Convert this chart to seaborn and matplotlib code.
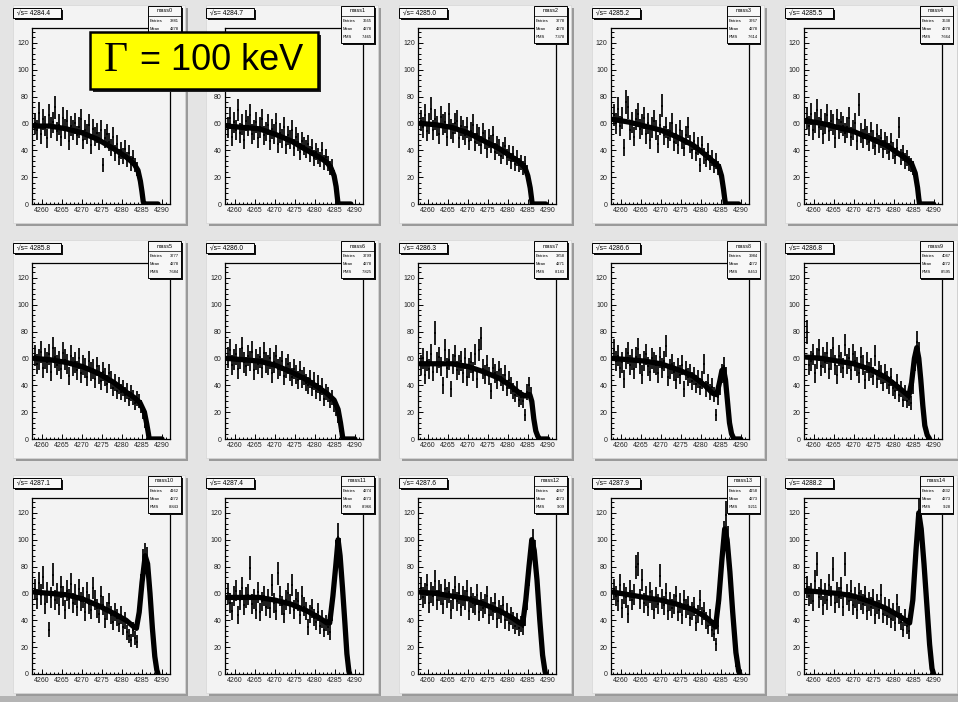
import numpy as np
import pandas as pd
import matplotlib
matplotlib.use("Agg")
import matplotlib.pyplot as plt
from matplotlib.patches import Rectangle
from matplotlib.ticker import MultipleLocator
import seaborn as sns

W, H = 958, 702

# ---- run metadata -------------------------------------------------------
energies = ["4284.4", "4284.7", "4285.0", "4285.2", "4285.5",
            "4285.8", "4286.0", "4286.3", "4286.6", "4286.8",
            "4287.1", "4287.4", "4287.6", "4287.9", "4288.2"]
hist_names = ["mass0", "mass1", "mass2", "mass3", "mass4",
              "mass5", "mass6", "mass7", "mass8", "mass9",
              "mass10", "mass11", "mass12", "mass13", "mass14"]
entries = [3881, 3665, 3778, 3767, 3638, 3777, 3799, 3858,
           3984, 4047, 4162, 4274, 4267, 4158, 4332]
means = [4278, 4278, 4278, 4278, 4278, 4278, 4278, 4271,
         4272, 4272, 4272, 4273, 4273, 4273, 4273]
rms = ["7.465", "7.465", "7.378", "7.614", "7.664", "7.684", "7.825", "8.183",
       "8.453", "8.595", "8.843", "8.966", "9.09", "9.211", "9.28"]
width_label = "= 100 keV"

# ---- histogram binning --------------------------------------------------
bin_lo = 4258.0
bin_width = 0.5

# ---- bin contents per scan point ---------------------------------------
counts_0 = [60, 55, 68, 52, 63, 58, 49, 66, 57, 61,
            72, 54, 59, 50, 64, 56, 62, 47, 58, 55,
            60, 51, 57, 63, 48, 55, 52, 59, 44, 56,
            50, 53, 47, 55, 29, 49, 52, 46, 42, 50,
            38, 45, 35, 40, 36, 41, 33, 38, 30, 34,
            29, 26, 20, 15, 5]
counts_1 = [57, 64, 50, 61, 55, 70, 53, 59, 48, 62,
            58, 66, 52, 55, 61, 49, 57, 63, 51, 54,
            59, 47, 56, 52, 60, 45, 53, 49, 57, 44,
            51, 48, 55, 42, 50, 46, 39, 47, 43, 41,
            45, 37, 42, 34, 39, 36, 33, 40, 31, 35,
            30, 27, 28, 21, 13, 3]
counts_2 = [62, 57, 66, 54, 60, 71, 55, 63, 58, 52,
            65, 59, 61, 50, 67, 56, 53, 60, 62, 49,
            58, 55, 51, 57, 47, 54, 59, 46, 52, 50,
            44, 53, 48, 41, 49, 45, 51, 39, 44, 42,
            36, 40, 43, 35, 38, 32, 37, 30, 34, 29,
            31, 27, 30, 24, 17, 9, 2]
counts_3 = [66, 60, 71, 58, 64, 42, 76, 72, 55, 61,
            50, 63, 67, 56, 59, 64, 52, 60, 48, 57,
            62, 55, 45, 59, 73, 51, 57, 49, 54, 60,
            46, 52, 44, 55, 48, 42, 51, 57, 45, 40,
            47, 38, 43, 29, 44, 36, 33, 39, 31, 34,
            28, 32, 27, 25, 19, 11, 2]
counts_4 = [64, 58, 67, 55, 61, 70, 57, 63, 52, 60,
            66, 54, 62, 59, 49, 63, 56, 61, 58, 53,
            57, 64, 50, 55, 60, 47, 74, 53, 49, 56,
            51, 46, 54, 48, 43, 52, 45, 49, 41, 47,
            44, 39, 46, 40, 36, 42, 57, 35, 38, 32,
            34, 30, 29, 27, 21, 13, 4]
counts_5 = [62, 56, 59, 65, 53, 60, 57, 63, 50, 68,
            61, 55, 58, 52, 64, 59, 56, 47, 62, 54,
            57, 51, 60, 49, 55, 53, 46, 58, 50, 52,
            45, 54, 48, 43, 50, 46, 41, 49, 44, 38,
            42, 36, 40, 35, 38, 33, 36, 30, 34, 31,
            27, 30, 28, 24, 19, 12, 5, 1]
counts_6 = [61, 66, 55, 59, 63, 52, 60, 68, 57, 54,
            62, 58, 65, 51, 59, 56, 61, 53, 64, 57,
            55, 60, 49, 57, 62, 52, 54, 58, 47, 53,
            56, 50, 46, 52, 48, 44, 51, 45, 47, 42,
            40, 45, 38, 43, 36, 41, 34, 39, 30, 35,
            33, 28, 31, 25, 22, 16, 8, 2]
counts_7 = [55, 60, 48, 58, 52, 63, 50, 79, 57, 61,
            54, 40, 66, 53, 59, 37, 56, 62, 51, 55,
            58, 49, 60, 46, 53, 57, 50, 63, 45, 66,
            75, 52, 48, 55, 47, 36, 53, 49, 44, 51,
            46, 42, 48, 38, 44, 40, 36, 33, 37, 29,
            31, 28, 18, 35, 40, 33, 21, 9, 3, 1]
counts_8 = [66, 58, 62, 53, 57, 45, 60, 64, 55, 59,
            52, 61, 67, 56, 48, 58, 63, 54, 50, 60,
            57, 55, 49, 61, 53, 58, 69, 46, 52, 56,
            50, 44, 53, 48, 55, 37, 51, 46, 49, 43,
            47, 41, 45, 39, 44, 56, 37, 42, 35, 39,
            33, 18, 31, 39, 49, 54, 47, 27, 12, 4, 1]
counts_9 = [80, 55, 58, 63, 49, 60, 66, 54, 61, 57,
            64, 52, 59, 68, 55, 48, 62, 57, 53, 70,
            56, 60, 51, 63, 58, 54, 49, 61, 55, 44,
            57, 50, 53, 47, 62, 45, 51, 48, 42, 49,
            44, 40, 46, 38, 36, 42, 33, 37, 29, 34,
            28, 30, 27, 40, 58, 72, 64, 44, 24, 10, 3, 1]
counts_10 = [63, 56, 68, 59, 72, 52, 61, 33, 57, 74,
             55, 60, 51, 65, 58, 48, 62, 56, 67, 53,
             59, 50, 63, 54, 57, 46, 61, 52, 48, 64,
             55, 49, 45, 58, 51, 41, 47, 53, 44, 39,
             46, 42, 37, 44, 35, 40, 31, 28, 25, 33,
             27, 24, 45, 66, 84, 88, 85, 66, 43, 21, 8, 2]
counts_11 = [60, 53, 47, 58, 62, 44, 55, 64, 51, 57,
             59, 79, 52, 56, 48, 61, 46, 54, 58, 50,
             56, 49, 66, 53, 47, 75, 58, 51, 45, 55,
             60, 52, 66, 48, 56, 54, 44, 58, 50, 47,
             35, 45, 49, 42, 39, 46, 36, 41, 33, 38,
             35, 31, 46, 63, 81, 102, 92, 68, 46, 24, 8, 1]
counts_12 = [64, 57, 60, 66, 53, 61, 58, 69, 55, 62,
             59, 52, 63, 57, 61, 48, 56, 65, 54, 60,
             50, 58, 55, 62, 47, 57, 53, 51, 59, 46,
             54, 49, 52, 58, 44, 50, 47, 53, 41, 48,
             45, 51, 40, 46, 38, 43, 40, 36, 39, 34,
             37, 35, 42, 55, 74, 92, 98, 90, 70, 46, 24, 8, 1]
counts_13 = [63, 58, 54, 66, 49, 60, 57, 45, 62, 55,
             59, 80, 82, 56, 70, 53, 58, 50, 61, 55,
             48, 57, 52, 73, 56, 51, 60, 47, 54, 49,
             52, 58, 46, 53, 44, 55, 49, 51, 42, 47,
             50, 38, 45, 55, 43, 47, 40, 36, 42, 33,
             30, 22, 36, 60, 85, 104, 118, 100, 76, 49, 25, 8, 2]
counts_14 = [65, 58, 60, 54, 69, 82, 57, 63, 51, 60,
             55, 66, 58, 78, 53, 61, 57, 64, 50, 82,
             59, 54, 62, 51, 57, 48, 60, 55, 52, 58,
             47, 54, 50, 56, 44, 52, 48, 59, 45, 50,
             43, 49, 41, 46, 38, 52, 44, 39, 33, 42,
             36, 32, 44, 58, 84, 106, 122, 110, 92, 66, 40, 19, 7, 1]

# ---- fitted line shape, (mass, events) knots ----------------------------
fit_0 = [(4258, 58), (4262, 58), (4266, 56), (4270, 53), (4274, 48), (4278, 41),
         (4281, 35), (4283, 30), (4284, 25), (4284.6, 17), (4285, 9), (4285.3, 2),
         (4285.5, 0), (4289, 0)]
fit_1 = [(4258, 58), (4262, 57), (4266, 56), (4270, 52), (4274, 47), (4278, 40),
         (4281, 35), (4283, 31), (4284, 27), (4284.8, 21), (4285.3, 13), (4285.6, 5),
         (4285.8, 0), (4289, 0)]
fit_2 = [(4258, 60), (4262, 59), (4266, 57), (4270, 53), (4274, 47), (4278, 41),
         (4281, 35), (4283, 31), (4284.3, 27), (4285, 21), (4285.6, 12), (4285.9, 5),
         (4286.1, 0), (4289.5, 0)]
fit_3 = [(4258, 63), (4262, 61), (4266, 58), (4270, 55), (4274, 50), (4278, 44),
         (4281, 37), (4283, 32), (4284.5, 28), (4285.2, 21), (4285.7, 11), (4286, 4),
         (4286.2, 0), (4289.5, 0)]
fit_4 = [(4258, 62), (4262, 60), (4266, 57), (4270, 54), (4274, 49), (4278, 44),
         (4281, 38), (4283, 34), (4284.5, 30), (4285.4, 23), (4286, 12), (4286.3, 4),
         (4286.5, 0), (4290, 0)]
fit_5 = [(4258, 60), (4262, 59), (4266, 57), (4270, 54), (4274, 49), (4278, 42),
         (4281, 35), (4283, 31), (4284.5, 27), (4285.6, 20), (4286.2, 11), (4286.6, 4),
         (4286.8, 0), (4290, 0)]
fit_6 = [(4258, 60), (4262, 59), (4266, 58), (4270, 55), (4274, 50), (4278, 44),
         (4281, 38), (4283, 34), (4284.8, 29), (4285.8, 22), (4286.4, 12), (4286.8, 4),
         (4287, 0), (4290, 0)]
fit_7 = [(4258, 56), (4262, 56), (4266, 56), (4270, 54), (4274, 50), (4278, 45),
         (4281, 39), (4283, 34), (4284.3, 32), (4285, 33), (4285.5, 33), (4286, 28),
         (4286.5, 15), (4287, 6), (4287.5, 2), (4288, 0), (4290, 0)]
fit_8 = [(4258, 60), (4262, 59), (4266, 58), (4270, 56), (4274, 52), (4278, 47),
         (4281, 40), (4283, 34), (4284, 33), (4284.7, 42), (4285.3, 51), (4285.7, 52),
         (4286.2, 44), (4286.7, 28), (4287.2, 12), (4287.7, 4), (4288.3, 0), (4290, 0)]
fit_9 = [(4258, 61), (4262, 60), (4266, 58), (4270, 56), (4274, 52), (4278, 46),
         (4281, 39), (4283, 34), (4283.8, 32), (4284.5, 42), (4285.2, 60), (4285.8, 68),
         (4286.3, 60), (4286.8, 44), (4287.3, 25), (4287.8, 10), (4288.4, 3), (4289, 0)]
fit_10 = [(4258, 61), (4262, 60), (4266, 59), (4270, 56), (4274, 51), (4278, 45),
          (4281, 40), (4283, 35), (4283.6, 34), (4284.3, 46), (4285, 68), (4285.8, 88),
          (4286.4, 82), (4287, 60), (4287.6, 34), (4288.2, 13), (4288.7, 3), (4289, 0)]
fit_11 = [(4258, 57), (4262, 57), (4266, 57), (4270, 55), (4274, 52), (4278, 47),
          (4281, 42), (4283, 38), (4283.7, 38), (4284.5, 58), (4285.2, 80), (4285.8, 100),
          (4286.3, 88), (4286.9, 64), (4287.5, 38), (4288, 15), (4288.5, 2), (4288.7, 0)]
fit_12 = [(4258, 61), (4262, 60), (4266, 58), (4270, 56), (4274, 52), (4278, 47),
          (4281, 42), (4283, 38), (4283.7, 37), (4284.5, 55), (4285.3, 80), (4286, 100),
          (4286.6, 92), (4287.3, 70), (4288, 40), (4288.7, 14), (4289.3, 2), (4289.5, 0)]
fit_13 = [(4258, 61), (4262, 59), (4266, 57), (4270, 55), (4274, 52), (4278, 48),
          (4281, 43), (4283, 38), (4283.7, 35), (4284.5, 55), (4285.3, 85), (4286, 108),
          (4286.6, 100), (4287.3, 76), (4288, 46), (4288.8, 16), (4289.5, 2), (4289.8, 0)]
fit_14 = [(4258, 62), (4262, 61), (4266, 60), (4270, 58), (4274, 54), (4278, 49),
          (4281, 44), (4283, 40), (4284, 38), (4284.8, 55), (4285.6, 92), (4286.3, 120),
          (4286.9, 108), (4287.6, 82), (4288.3, 52), (4289, 22), (4289.6, 4), (4290, 0)]

all_counts = [counts_0, counts_1, counts_2, counts_3, counts_4, counts_5, counts_6,
              counts_7, counts_8, counts_9, counts_10, counts_11, counts_12,
              counts_13, counts_14]
all_fits = [fit_0, fit_1, fit_2, fit_3, fit_4, fit_5, fit_6, fit_7, fit_8,
            fit_9, fit_10, fit_11, fit_12, fit_13, fit_14]

# ---- style --------------------------------------------------------------
sns.set_theme(style="white")
plt.rcParams["font.family"] = ["Liberation Sans", "DejaVu Sans"]

CANVAS = "#e4e4e4"
PAD = "#f3f3f3"
SHADOW = "#9a9a9a"

fig = plt.figure(figsize=(W / 100, H / 100), dpi=100, facecolor=CANVAS)


def px_axes(left, top, width, height, zorder=1):
    return fig.add_axes([left / W, 1 - (top + height) / H, width / W, height / H],
                        zorder=zorder)


def overlay(zorder):
    ov = px_axes(0, 0, W, H, zorder=zorder)
    ov.set_xlim(0, W)
    ov.set_ylim(H, 0)
    ov.axis("off")
    return ov


bg = overlay(0)
fg = overlay(5)

# canvas bevel along the bottom edge
bg.add_patch(Rectangle((0, H - 6), W, 6, color="#b4b4b4", lw=0))

COL, ROW = 192.9, 235.0

# annotation box geometry (pixels): texts that sit fully beneath it are skipped
NOTE_BOX = (90, 32, 228, 57)


def under_note(x, y):
    bx, by, bw, bh = NOTE_BOX
    return bx < x < bx + bw and by < y < by + bh


for idx in range(15):
    r, c = divmod(idx, 5)
    ox, oy = c * COL, r * ROW

    # pad with drop shadow
    bg.add_patch(Rectangle((ox + 16, oy + 8), 172, 218, color=SHADOW, lw=0))
    bg.add_patch(Rectangle((ox + 13, oy + 5), 172, 218, facecolor=PAD,
                           edgecolor="#d6d6d6", lw=0.5))

    ax_left, ax_top, ax_w, ax_h = ox + 32, oy + 28, 138, 176
    ax = px_axes(ax_left, ax_top, ax_w, ax_h, zorder=1)
    ax.set_facecolor(PAD)

    counts = np.array(all_counts[idx], dtype=float)
    centers = bin_lo + bin_width * (np.arange(len(counts)) + 0.5)
    ax.errorbar(centers, counts, yerr=np.sqrt(counts), xerr=bin_width / 2,
                fmt="none", ecolor="black", elinewidth=1.25, zorder=2)

    fit = pd.DataFrame(all_fits[idx], columns=["mass", "events"])
    sns.lineplot(data=fit, x="mass", y="events", ax=ax, color="black",
                 linewidth=3.8, sort=False, estimator=None, zorder=3)

    ymax = 131
    ax.set_xlim(4257.5, 4292)
    ax.set_ylim(0, ymax)
    ax.set_xlabel("")
    ax.set_ylabel("")
    ax.xaxis.set_major_locator(MultipleLocator(5))
    ax.xaxis.set_minor_locator(MultipleLocator(1))
    ax.yaxis.set_major_locator(MultipleLocator(20))
    ax.yaxis.set_minor_locator(MultipleLocator(4))
    ax.tick_params(which="both", direction="in", top=False, right=False,
                   bottom=True, left=True, colors="black", width=0.7)
    ax.tick_params(which="major", length=3.5, labelsize=5.0, pad=2.2,
                   labelcolor="#222222")
    ax.tick_params(which="minor", length=1.8)
    for sp in ax.spines.values():
        sp.set_color("black")
        sp.set_linewidth(0.9)

    # y tick labels hidden beneath the annotation box are not drawn
    fig.canvas.draw()
    yticks = [t for t in ax.get_yticks() if 0 <= t <= ymax]
    labels = []
    for t in yticks:
        ypix = ax_top + ax_h * (1 - t / ymax)
        labels.append("" if under_note(ax_left - 8, ypix) else f"{t:.0f}")
    ax.set_yticks(yticks)
    ax.set_yticklabels(labels)

    # title box
    fg.add_patch(Rectangle((ox + 15, oy + 9.5), 48, 10, color="#111111", lw=0))
    fg.add_patch(Rectangle((ox + 13.5, oy + 8), 48, 10, facecolor="#f7f7f7",
                           edgecolor="black", lw=0.7))
    fg.text(ox + 17, oy + 13.2, "√s= " + energies[idx], fontsize=4.8,
            va="center", ha="left", color="black")

    # statistics box
    sx, sy, sw, sh = ox + 148, oy + 6, 33, 37
    fg.add_patch(Rectangle((sx + 1.8, sy + 1.8), sw, sh, color="#111111", lw=0))
    fg.add_patch(Rectangle((sx, sy), sw, sh, facecolor="#f7f7f7",
                           edgecolor="black", lw=0.7))
    fg.plot([sx, sx + sw], [sy + 9.5, sy + 9.5], color="black", lw=0.5)
    fg.text(sx + sw / 2, sy + 5, hist_names[idx], fontsize=3.9,
            ha="center", va="center", color="black")
    rows = [("Entries", str(entries[idx])), ("Mean", str(means[idx])),
            ("RMS", rms[idx])]
    for k, (lab, val) in enumerate(rows):
        yy = sy + 15 + 8.2 * k
        if under_note(sx + 2, yy - 2):
            continue
        fg.text(sx + 2, yy, lab, fontsize=3.0, ha="left", va="center", color="black")
        fg.text(sx + sw - 2, yy, val, fontsize=3.0, ha="right", va="center",
                color="black")

# decay-width annotation
bx, by, bw, bh = NOTE_BOX
fg.add_patch(Rectangle((bx + 3, by + 3), bw, bh, color="#222222", lw=0))
fg.add_patch(Rectangle((bx, by), bw, bh, facecolor="#ffff00",
                       edgecolor="black", lw=1.8))
fg.text(104, 61, "Γ", fontsize=30, family=["Liberation Serif", "DejaVu Serif"],
        ha="left", va="center", color="black")
fg.text(140, 61, width_label, fontsize=26, ha="left", va="center", color="black")

fig.savefig("out.png", dpi=100, facecolor=CANVAS)
